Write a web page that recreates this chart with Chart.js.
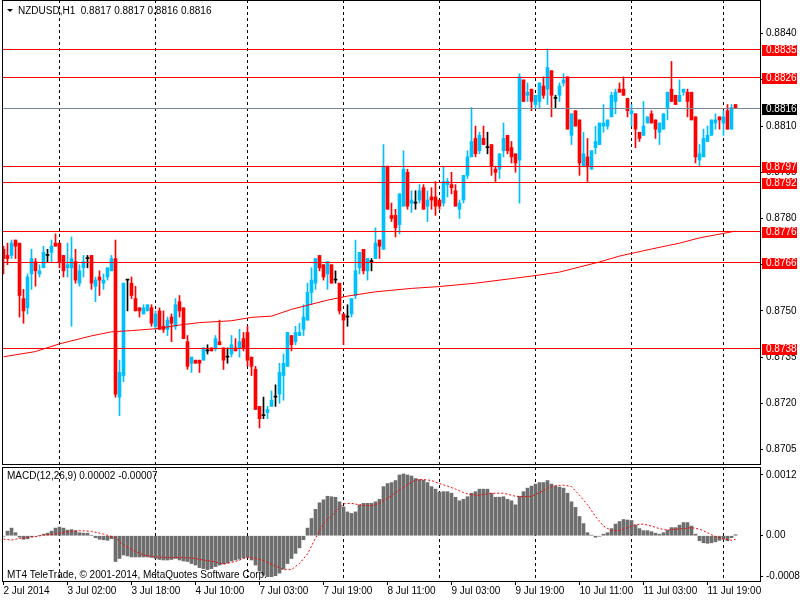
<!DOCTYPE html>
<html>
<head>
<meta charset="utf-8">
<script src="https://cdn.jsdelivr.net/npm/chart.js@4.4.1/dist/chart.umd.min.js"></script>
<style>
  html, body { margin: 0; padding: 0; background: #fff; }
  #wrap { position: relative; width: 800px; height: 600px; overflow: hidden; background: #fff; }
  canvas { position: absolute; left: 0; }
  #priceChart { top: 0; }
  #macdChart { top: 465px; }
</style>
</head>
<body>
<div id="wrap">
  <canvas id="priceChart" width="800" height="465"></canvas>
  <canvas id="macdChart" width="800" height="135"></canvas>
</div>
<script>
// NZDUSD H1, bar 0 = 2 Jul 2014 10:00
const opens = [
  0.8770,0.8768,0.8768,0.8773,0.8772,0.8754,0.8751,0.8762,0.8766,0.8762,
  0.8764,0.8768,0.8769,0.8772,0.8772,0.8768,0.8764,0.8764,0.8766,0.8759,
  0.8764,0.8767,0.8768,0.8758,0.8761,0.8759,0.8761,0.8763,0.8767,0.8722,
  0.8729,0.8760,0.8759,0.8754,0.8751,0.8749,0.8750,0.8751,0.8745,0.8750,
  0.8745,0.8744,0.8748,0.8745,0.8753,0.8751,0.8740,0.8733,0.8734,0.8734,
  0.8734,0.8737,0.8738,0.8738,0.8740,0.8738,0.8735,0.8736,0.8738,0.8738,
  0.8741,0.8743,0.8735,0.8731,0.8719,0.8716,0.8717,0.8719,0.8722,0.8723,
  0.8729,0.8732,0.8742,0.8740,0.8742,0.8744,0.8747,0.8756,0.8759,0.8768,
  0.8765,0.8762,0.8765,0.8760,0.8759,0.8749,0.8748,0.8749,0.8755,0.8764,
  0.8770,0.8763,0.8766,0.8767,0.8773,0.8770,0.8797,0.8781,0.8781,0.8778,
  0.8784,0.8795,0.8785,0.8785,0.8786,0.8790,0.8784,0.8787,0.8787,0.8786,
  0.8785,0.8791,0.8791,0.8789,0.8783,0.8786,0.8794,0.8800,0.8806,0.8802,
  0.8806,0.8803,0.8804,0.8796,0.8796,0.8802,0.8807,0.8803,0.8801,0.8799,
  0.8825,0.8820,0.8822,0.8817,0.8818,0.8823,0.8822,0.8828,0.8819,0.8820,
  0.8824,0.8826,0.8807,0.8815,0.8812,0.8797,0.8800,0.8796,0.8803,0.8804,
  0.8810,0.8810,0.8813,0.8818,0.8822,0.8822,0.8819,0.8814,0.8814,0.8808,
  0.8807,0.8811,0.8814,0.8812,0.8808,0.8809,0.8816,0.8822,0.8820,0.8818,
  0.8821,0.8821,0.8821,0.8813,0.8799,0.8800,0.8805,0.8807,0.8811,0.8813,
  0.8811,0.8815,0.8809,0.8817
];
const highs = [
  0.8771,0.8772,0.8773,0.8773,0.8772,0.8757,0.8762,0.8770,0.8767,0.8765,
  0.8771,0.8770,0.8773,0.8775,0.8772,0.8768,0.8772,0.8774,0.8770,0.8765,
  0.8768,0.8768,0.8768,0.8761,0.8763,0.8762,0.8764,0.8768,0.8773,0.8734,
  0.8759,0.8760,0.8761,0.8758,0.8751,0.8752,0.8752,0.8752,0.8750,0.8751,
  0.8750,0.8748,0.8749,0.8754,0.8755,0.8751,0.8742,0.8735,0.8734,0.8734,
  0.8738,0.8739,0.8738,0.8742,0.8747,0.8738,0.8738,0.8742,0.8741,0.8744,
  0.8743,0.8745,0.8735,0.8732,0.8719,0.8722,0.8719,0.8724,0.8726,0.8733,
  0.8736,0.8743,0.8742,0.8745,0.8746,0.8752,0.8759,0.8764,0.8767,0.8768,
  0.8765,0.8766,0.8765,0.8763,0.8759,0.8749,0.8752,0.8754,0.8773,0.8769,
  0.8770,0.8767,0.8767,0.8777,0.8773,0.8804,0.8797,0.8785,0.8783,0.8788,
  0.8802,0.8796,0.8789,0.8789,0.8791,0.8791,0.8789,0.8790,0.8792,0.8786,
  0.8797,0.8793,0.8795,0.8791,0.8786,0.8794,0.8802,0.8816,0.8810,0.8808,
  0.8810,0.8808,0.8804,0.8797,0.8801,0.8811,0.8807,0.8805,0.8801,0.8827,
  0.8825,0.8824,0.8822,0.8820,0.8824,0.8826,0.8835,0.8828,0.8820,0.8824,
  0.8827,0.8826,0.8814,0.8815,0.8812,0.8808,0.8806,0.8802,0.8810,0.8811,
  0.8817,0.8812,0.8821,0.8822,0.8824,0.8826,0.8819,0.8817,0.8814,0.8808,
  0.8818,0.8813,0.8815,0.8812,0.8811,0.8814,0.8821,0.8831,0.8820,0.8825,
  0.8822,0.8822,0.8821,0.8813,0.8804,0.8809,0.8810,0.8812,0.8814,0.8813,
  0.8815,0.8817,0.8817,0.8817
];
const lows = [
  0.8762,0.8765,0.8767,0.8767,0.8748,0.8746,0.8749,0.8757,0.8758,0.8761,
  0.8764,0.8766,0.8766,0.8771,0.8764,0.8761,0.8761,0.8745,0.8759,0.8758,
  0.8761,0.8764,0.8757,0.8753,0.8755,0.8757,0.8760,0.8763,0.8722,0.8716,
  0.8727,0.8750,0.8754,0.8750,0.8748,0.8749,0.8750,0.8745,0.8744,0.8744,
  0.8743,0.8742,0.8740,0.8744,0.8748,0.8741,0.8731,0.8730,0.8733,0.8730,
  0.8734,0.8736,0.8737,0.8737,0.8739,0.8731,0.8733,0.8735,0.8737,0.8735,
  0.8737,0.8732,0.8729,0.8718,0.8712,0.8715,0.8715,0.8719,0.8719,0.8720,
  0.8721,0.8732,0.8737,0.8739,0.8742,0.8742,0.8747,0.8752,0.8757,0.8763,
  0.8760,0.8757,0.8759,0.8759,0.8749,0.8739,0.8745,0.8748,0.8754,0.8762,
  0.8762,0.8760,0.8763,0.8767,0.8767,0.8770,0.8783,0.8779,0.8774,0.8775,
  0.8784,0.8783,0.8782,0.8783,0.8785,0.8783,0.8779,0.8783,0.8781,0.8783,
  0.8784,0.8787,0.8788,0.8784,0.8780,0.8785,0.8793,0.8800,0.8800,0.8801,
  0.8804,0.8801,0.8794,0.8792,0.8793,0.8800,0.8801,0.8798,0.8795,0.8785,
  0.8818,0.8818,0.8815,0.8816,0.8816,0.8819,0.8817,0.8813,0.8816,0.8818,
  0.8823,0.8809,0.8804,0.8810,0.8794,0.8797,0.8792,0.8796,0.8801,0.8804,
  0.8808,0.8809,0.8813,0.8814,0.8821,0.8820,0.8813,0.8810,0.8803,0.8805,
  0.8807,0.8811,0.8811,0.8806,0.8804,0.8809,0.8812,0.8818,0.8817,0.8818,
  0.8820,0.8813,0.8812,0.8798,0.8797,0.8800,0.8805,0.8807,0.8809,0.8809,
  0.8807,0.8809,0.8809,0.8816
];
const closes = [
  0.8767,0.8767,0.8772,0.8771,0.8755,0.8750,0.8761,0.8767,0.8763,0.8763,
  0.8769,0.8768,0.8771,0.8771,0.8766,0.8763,0.8765,0.8767,0.8760,0.8763,
  0.8766,0.8767,0.8759,0.8760,0.8760,0.8760,0.8764,0.8767,0.8723,0.8730,
  0.8759,0.8760,0.8755,0.8750,0.8750,0.8751,0.8752,0.8746,0.8749,0.8744,
  0.8744,0.8747,0.8746,0.8752,0.8750,0.8741,0.8732,0.8735,0.8733,0.8733,
  0.8738,0.8737,0.8737,0.8741,0.8739,0.8734,0.8735,0.8739,0.8737,0.8740,
  0.8738,0.8734,0.8732,0.8718,0.8715,0.8716,0.8718,0.8721,0.8722,0.8730,
  0.8733,0.8743,0.8739,0.8743,0.8743,0.8748,0.8756,0.8760,0.8767,0.8764,
  0.8761,0.8766,0.8759,0.8760,0.8750,0.8747,0.8748,0.8754,0.8763,0.8769,
  0.8763,0.8767,0.8766,0.8772,0.8771,0.8797,0.8783,0.8780,0.8777,0.8788,
  0.8796,0.8784,0.8786,0.8785,0.8789,0.8783,0.8786,0.8786,0.8784,0.8784,
  0.8792,0.8792,0.8790,0.8784,0.8785,0.8794,0.8800,0.8805,0.8801,0.8807,
  0.8804,0.8803,0.8797,0.8795,0.8801,0.8806,0.8802,0.8800,0.8798,0.8826,
  0.8818,0.8821,0.8818,0.8820,0.8824,0.8820,0.8829,0.8820,0.8819,0.8823,
  0.8825,0.8809,0.8814,0.8810,0.8798,0.8801,0.8797,0.8802,0.8805,0.8811,
  0.8811,0.8812,0.8820,0.8821,0.8821,0.8820,0.8815,0.8815,0.8809,0.8806,
  0.8810,0.8813,0.8811,0.8809,0.8811,0.8814,0.8821,0.8818,0.8817,0.8820,
  0.8822,0.8818,0.8812,0.8800,0.8801,0.8806,0.8807,0.8812,0.8812,0.8812,
  0.8813,0.8809,0.8816,0.8816
];

// moving average (bar index / price)
const maIdx = [0, 8, 14, 22, 27, 32, 38, 44, 49, 57, 62, 67, 72, 81, 86, 93, 102, 109, 118, 132, 139, 149, 154, 162, 169, 174, 183];
const maVal = [0.87351, 0.87368, 0.87393, 0.87419, 0.87432, 0.87436, 0.87442, 0.87454, 0.87462, 0.87468, 0.87479, 0.87483, 0.87505, 0.87535, 0.87548, 0.87562, 0.87573, 0.87579, 0.87590, 0.87613, 0.87626, 0.87659, 0.87678, 0.87701, 0.87720, 0.87737, 0.87759];

// MACD(12,26,9) main histogram, one value per bar
const macdMain = [
  -0.00001,0.00009,0.00015,0.00006,-0.00003,-0.00007,-0.00006,-0.00002,-0.00001,0.00000,
  0.00003,0.00005,0.00009,0.00015,0.00017,0.00015,0.00011,0.00012,0.00010,0.00006,
  0.00005,0.00005,0.00000,-0.00004,-0.00007,-0.00008,-0.00009,-0.00006,-0.00051,-0.00045,
  -0.00038,-0.00040,-0.00042,-0.00042,-0.00042,-0.00042,-0.00042,-0.00043,-0.00045,-0.00047,
  -0.00048,-0.00048,-0.00047,-0.00045,-0.00048,-0.00050,-0.00051,-0.00055,-0.00058,-0.00063,
  -0.00065,-0.00067,-0.00065,-0.00061,-0.00058,-0.00056,-0.00054,-0.00050,-0.00048,-0.00046,
  -0.00044,-0.00043,-0.00048,-0.00058,-0.00070,-0.00078,-0.00081,-0.00081,-0.00079,-0.00074,
  -0.00066,-0.00055,-0.00045,-0.00035,-0.00024,-0.00008,0.00015,0.00034,0.00052,0.00065,
  0.00071,0.00078,0.00077,0.00076,0.00067,0.00057,0.00047,0.00044,0.00047,0.00061,
  0.00064,0.00064,0.00064,0.00067,0.00072,0.00097,0.00103,0.00105,0.00109,0.00120,
  0.00122,0.00120,0.00118,0.00113,0.00111,0.00110,0.00105,0.00097,0.00092,0.00086,
  0.00087,0.00087,0.00084,0.00076,0.00069,0.00072,0.00077,0.00084,0.00087,0.00092,
  0.00092,0.00092,0.00084,0.00076,0.00076,0.00077,0.00072,0.00069,0.00061,0.00078,
  0.00087,0.00094,0.00098,0.00102,0.00105,0.00105,0.00109,0.00102,0.00098,0.00096,
  0.00094,0.00084,0.00067,0.00056,0.00038,0.00024,0.00006,0.00001,-0.00003,-0.00001,
  0.00003,0.00006,0.00014,0.00023,0.00028,0.00032,0.00031,0.00030,0.00021,0.00014,
  0.00010,0.00010,0.00008,0.00005,0.00003,0.00006,0.00011,0.00016,0.00016,0.00021,
  0.00026,0.00026,0.00019,0.00003,-0.00010,-0.00014,-0.00015,-0.00014,-0.00012,-0.00009,
  -0.00007,-0.00010,-0.00004,0.00002
];

// signal line (bar index / value)
const sigIdx = [0, 2, 4, 6, 8, 10, 13, 16, 19, 22, 25, 28, 30, 33, 35, 38, 41, 44, 47, 50, 53, 55, 58, 60, 61, 63, 65, 68, 70, 72, 74, 76, 78, 80, 83, 85, 87, 89, 92, 94, 96, 98,
  101, 103, 105, 107, 109, 111, 113, 115, 117, 119, 122, 125, 128, 130, 132, 134, 136, 138, 140, 142, 144, 146, 148, 150, 152, 154, 156, 158, 160, 162, 164, 166, 168, 170, 172, 174, 176, 178, 180, 182, 183];
const sigVal = [-0.000066, -0.000086, -0.000053, -0.00004, -0.00002, 0.000013, 0.000033, 0.000079, 0.000099, 0.000086, 0.000033, -0.00004, -0.000185, -0.00031, -0.00038, -0.00042, -0.00043, -0.00043, -0.00044, -0.00048, -0.00052, -0.00056, -0.00051, -0.00045, -0.00043, -0.00045, -0.00049, -0.00060, -0.00067, -0.00067, -0.00055, -0.00036, -0.00005, 0.00024, 0.00047, 0.00063, 0.00064, 0.00061, 0.00059, 0.00064, 0.00074, 0.00085,
  0.00101, 0.00110, 0.00111, 0.00109, 0.00103, 0.00098, 0.00092, 0.00085, 0.00081, 0.00080, 0.00084, 0.00084, 0.00078, 0.00077, 0.00078, 0.00085, 0.00094, 0.00099, 0.00100, 0.00097, 0.00080, 0.00061, 0.00038, 0.00019, 0.00010, 0.00010, 0.00016, 0.00022, 0.00023, 0.00019, 0.00014, 0.00011, 0.00013, 0.00014, 0.00016, 0.00013, 0.00006, -0.00002, -0.00006, -0.00009, -0.00007];

const levels = [0.8835, 0.8826, 0.8797, 0.8792, 0.8776, 0.8766, 0.8738];
const bidPrice = 0.8816;
const priceTicks = [0.8705, 0.8720, 0.8735, 0.8750, 0.8765, 0.8780, 0.8795, 0.8810, 0.8825, 0.8840];
const macdTicks = [-0.00081, 0, 0.0012];
const macdTickText = ['-0.00081', '0.00', '0.0012'];
const gridIdx = [14, 38, 61, 85, 109, 133, 157, 180];
const timeIdx = [0, 16, 32, 48, 64, 80, 96, 112, 128, 144, 160, 176];
const timeText = ['2 Jul 2014', '3 Jul 02:00', '3 Jul 18:00', '4 Jul 10:00', '7 Jul 03:00', '7 Jul 19:00',
  '8 Jul 11:00', '9 Jul 03:00', '9 Jul 19:00', '10 Jul 11:00', '11 Jul 03:00', '11 Jul 19:00'];

const BULL = '#00BFFF', BEAR = '#FF0000', DOJI = '#000000';
const LEVEL_COLOR = '#FF0000', BID_COLOR = '#778899', HIST_COLOR = '#6E6E6E';
const FONT_FAMILY = 'Liberation Sans';
const FONT = '10px "Liberation Sans"';
const X_MIN = -0.375, X_MAX = 189.125; // 4 px per bar

Chart.defaults.font.family = FONT_FAMILY;
Chart.defaults.font.size = 10;
Chart.defaults.color = '#000';

function candleColor(i) {
  if (closes[i] > opens[i]) return BULL;
  if (closes[i] < opens[i]) return BEAR;
  return DOJI;
}

// drop the label overhang padding that Chart.js puts around the axes
function noPad(size) {
  return s => {
    if (s.isHorizontal()) s.height = size; else s.width = size;
    s.paddingTop = 0; s.paddingBottom = 0; s.paddingLeft = 0; s.paddingRight = 0;
  };
}

const bars = opens.map((_, i) => i);
const wickData = bars.map(i => ({ x: i, y: [lows[i], highs[i]] }));
const bodyData = bars.map(i => ({ x: i, y: [Math.min(opens[i], closes[i]), Math.max(opens[i], closes[i])] }));
const maData = maIdx.map((v, k) => ({ x: v, y: maVal[k] }));
const histData = bars.map(i => ({ x: i, y: macdMain[i] }));
const sigData = sigIdx.map((v, k) => ({ x: v, y: sigVal[k] }));

const framePlugin = {
  id: 'frame',
  afterDraw(chart) {
    const a = chart.chartArea, c = chart.ctx;
    c.save();
    c.strokeStyle = '#000';
    c.lineWidth = 1;
    c.strokeRect(a.left + 0.5, a.top + 0.5, a.right - a.left, a.bottom - a.top);
    c.restore();
  }
};

const levelsPlugin = {
  id: 'levels',
  afterDatasetsDraw(chart) {
    const { ctx, chartArea: a, scales: { y } } = chart;
    ctx.save();
    ctx.lineWidth = 1;
    const line = (v, col) => {
      const py = Math.round(y.getPixelForValue(v)) + 0.5;
      ctx.strokeStyle = col;
      ctx.beginPath();
      ctx.moveTo(a.left, py);
      ctx.lineTo(a.right, py);
      ctx.stroke();
    };
    line(bidPrice, BID_COLOR);
    levels.forEach(v => line(v, LEVEL_COLOR));
    ctx.restore();
  },
  afterDraw(chart) {
    const { ctx, chartArea: a, scales: { y } } = chart;
    ctx.save();
    ctx.font = FONT;
    ctx.textBaseline = 'middle';
    const tag = (v, bg) => {
      const py = Math.round(y.getPixelForValue(v));
      ctx.fillStyle = bg;
      ctx.fillRect(a.right + 2, py - 4, 35, 11);
      ctx.fillStyle = '#fff';
      ctx.fillText(v.toFixed(4), a.right + 6, py + 1.5);
    };
    levels.forEach(v => tag(v, LEVEL_COLOR));
    tag(bidPrice, '#000');
    // symbol header
    const n = opens.length - 1;
    ctx.fillStyle = '#000';
    ctx.beginPath();
    ctx.moveTo(7, 9); ctx.lineTo(13, 9); ctx.lineTo(10, 12); ctx.closePath();
    ctx.fill();
    ctx.fillText('NZDUSD,H1  ' + [opens[n], highs[n], lows[n], closes[n]].map(v => v.toFixed(4)).join(' '), 18, 11);
    ctx.restore();
  }
};

const macdTextPlugin = {
  id: 'macdText',
  afterDraw(chart) {
    const ctx = chart.ctx;
    const n = macdMain.length - 1;
    ctx.save();
    ctx.font = FONT;
    ctx.fillStyle = '#000';
    ctx.textBaseline = 'middle';
    ctx.fillText('MACD(12,26,9) ' + macdMain[n].toFixed(5) + ' ' + sigVal[sigVal.length - 1].toFixed(5), 7, 11);
    ctx.fillText('MT4 TeleTrade, \u00A9 2001-2014, MetaQuotes Software Corp.', 7, 110);
    ctx.restore();
  }
};

function gridAxis(extra) {
  return Object.assign({
    type: 'linear', min: X_MIN, max: X_MAX, offset: false,
    afterBuildTicks: s => { s.ticks = gridIdx.map(v => ({ value: v })); },
    ticks: { display: false },
    grid: { color: '#000', lineWidth: 1, drawTicks: false, offset: false },
    border: { display: false, dash: [3, 3] }
  }, extra);
}

new Chart(document.getElementById('priceChart'), {
  type: 'bar',
  data: {
    datasets: [
      { type: 'line', data: maData, borderColor: '#FF0000', borderWidth: 1, pointRadius: 0, tension: 0, fill: false },
      { data: bodyData, grouped: false, barThickness: 3, minBarLength: 1, borderWidth: 0,
        backgroundColor: c => candleColor(c.dataIndex) },
      { data: wickData, grouped: false, barThickness: 1, minBarLength: 1, borderWidth: 0,
        backgroundColor: c => candleColor(c.dataIndex) }
    ]
  },
  options: {
    responsive: false, animation: false, devicePixelRatio: 1, events: [],
    layout: { autoPadding: false, padding: { left: 2, right: 0, top: 0, bottom: 0 } },
    plugins: { legend: { display: false }, tooltip: { enabled: false } },
    scales: {
      x: gridAxis({ position: 'bottom', afterFit: noPad(1) }),
      y: {
        type: 'linear', position: 'right', min: 0.870029, max: 0.885094,
        afterFit: noPad(40),
        afterBuildTicks: s => { s.ticks = priceTicks.map(v => ({ value: v })); },
        ticks: { padding: 3, callback: v => v.toFixed(4) },
        grid: { drawOnChartArea: false, drawTicks: true, tickLength: 3, color: '#000' },
        border: { display: false }
      }
    }
  },
  plugins: [levelsPlugin, framePlugin]
});

new Chart(document.getElementById('macdChart'), {
  type: 'bar',
  data: {
    datasets: [
      { type: 'line', data: sigData, borderColor: '#FF0000', borderWidth: 1, borderDash: [2, 2],
        pointRadius: 0, tension: 0, fill: false },
      { data: histData, grouped: false, barThickness: 3, borderWidth: 0, backgroundColor: HIST_COLOR }
    ]
  },
  options: {
    responsive: false, animation: false, devicePixelRatio: 1, events: [],
    layout: { autoPadding: false, padding: { left: 2, right: 0, top: 2, bottom: 0 } },
    plugins: { legend: { display: false }, tooltip: { enabled: false } },
    scales: {
      x: {
        type: 'linear', position: 'bottom', min: X_MIN, max: X_MAX, offset: false,
        afterFit: noPad(19),
        afterBuildTicks: s => { s.ticks = timeIdx.map(v => ({ value: v })); },
        ticks: { align: 'start', autoSkip: false, maxRotation: 0, minRotation: 0, padding: 0,
          callback: (v, i) => timeText[i] },
        grid: { drawOnChartArea: false, drawTicks: true, tickLength: 4, color: '#000', offset: false },
        border: { display: false }
      },
      xg: gridAxis({ position: 'top', afterFit: noPad(0) }),
      y: {
        type: 'linear', position: 'right', min: -0.000895, max: 0.0013577,
        afterFit: noPad(40),
        afterBuildTicks: s => { s.ticks = macdTicks.map(v => ({ value: v })); },
        ticks: { padding: 3, callback: (v, i) => macdTickText[i] },
        grid: { drawOnChartArea: false, drawTicks: true, tickLength: 3, color: '#000' },
        border: { display: false }
      }
    }
  },
  plugins: [macdTextPlugin, framePlugin]
});
</script>
</body>
</html>
